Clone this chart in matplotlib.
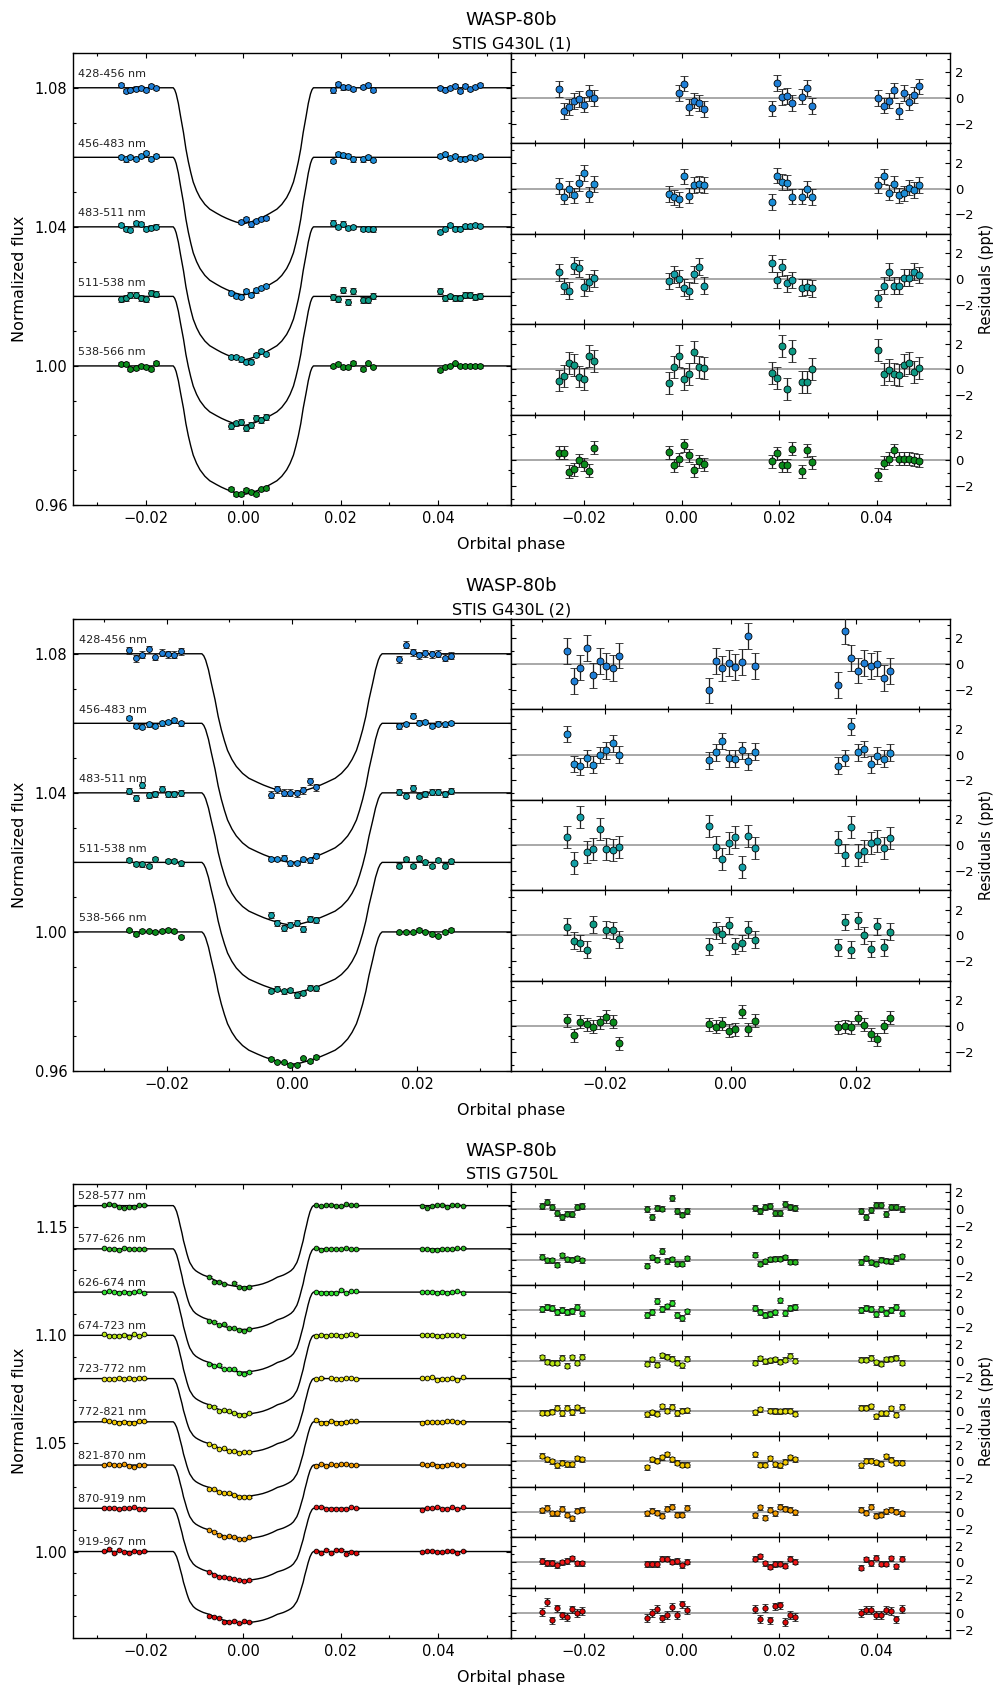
import numpy as np
import matplotlib
matplotlib.use("Agg")
import matplotlib.pyplot as plt
from matplotlib.ticker import MultipleLocator, FuncFormatter

nan = np.nan

# ======================= STIS G430L (1) =======================
p1_labels = ["428-456 nm", "456-483 nm", "483-511 nm", "511-538 nm", "538-566 nm"]
p1_offsets = [1.08, 1.06, 1.04, 1.02, 1.00]
p1_depths = [0.0390, 0.0395, 0.0382, 0.0371, 0.0369]
p1_errs = [0.6, 0.6, 0.65, 0.85, 0.5]
p1_colors = ['#1f7fd8', '#1c8ed8', '#12a0a8', '#0e9a84', '#0b8c1c']
p1_phase_g1 = [-0.0252, -0.0242, -0.0232, -0.0221, -0.0211, -0.0201, -0.0190, -0.0179]
p1_phase_g2 = [-0.00253, -0.0015, -0.00048, 0.00055, 0.00158, 0.0026, 0.00363, 0.00466]
p1_phase_g3 = [0.01842, 0.01945, 0.02048, 0.0215, 0.02253, 0.02459, 0.02562, 0.02664]
p1_phase_g4 = [0.04034, 0.04137, 0.0424, 0.04342, 0.04452, 0.04555, 0.04658, 0.0476, 0.04863]
p1_shape_g2 = [0.977, 0.99, 0.999, 0.999, 0.99, 0.976, 0.96, 0.942]
p1_res_b1 = [0.73, -1.0, -0.7, -0.23, -0.05, -0.5, 0.42, 0.03,
             nan, nan, 0.39, 1.12, -0.7, -0.18, -0.39, -0.83,
             -0.78, 1.17, 0.08, 0.16, -0.39, 0.13, 0.78, -0.62,
             0.0, -0.57, -0.18, 0.6, -1.01, 0.42, -0.31, 0.23, 0.91]
p1_res_b2 = [0.2, -0.62, -0.03, -0.52, 0.42, 1.2, -0.44, 0.36,
             -0.42, -0.68, -0.83, 0.94, -0.55, 0.26, 0.34, 0.26,
             -1.04, 1.01, 0.52, 0.47, -0.62, -0.62, -0.05, -0.65,
             0.26, 0.94, -0.31, 0.36, -0.52, -0.36, 0.08, -0.1, 0.29]
p1_res_b3 = [0.52, -0.55, -0.91, 1.04, 0.83, -0.65, -0.26, 0.05,
             -0.16, 0.36, 0.03, -0.68, -0.91, 0.36, 0.96, -0.52,
             1.22, -0.08, 0.91, -0.34, -0.08, -0.68, -0.62, -0.73,
             -1.48, -0.52, 0.57, -0.52, -0.52, 0.1, 0.1, 0.57, 0.31]
p1_res_b4 = [-0.86, -0.49, 0.49, 0.34, -0.55, -0.78, 1.01, 0.68,
             -1.04, 0.18, 1.01, -0.75, -0.34, 1.32, 0.18, 0.13,
             -0.26, -0.65, 1.84, -1.53, 1.45, -0.94, -0.96, 0.05,
             1.53, -0.39, -0.03, -0.34, -0.47, 0.31, 0.49, -0.18, 0.13]
p1_res_b5 = [0.55, 0.55, -0.91, -0.73, -0.05, -0.36, -0.86, 0.94,
             0.6, -0.44, 0.05, 1.12, 0.34, -0.81, -0.1, -0.36,
             -0.1, 0.52, -0.44, -0.42, 0.86, -0.88, 0.75, -0.18,
             -1.14, -0.23, 0.08, 0.75, 0.08, 0.08, 0.08, 0.0, -0.08]

# ======================= STIS G430L (2) =======================
p2_labels = p1_labels
p2_offsets = [1.08, 1.06, 1.04, 1.02, 1.00]
p2_depths = [0.0400, 0.0400, 0.0380, 0.0375, 0.0380]
p2_errs = [1.0, 0.65, 0.85, 0.65, 0.5]
p2_colors = p1_colors
p2_phase_g1 = [-0.0260, -0.02495, -0.02394, -0.02287, -0.02186, -0.02085, -0.01979, -0.01878, -0.01771]
p2_phase_g2 = [-0.0034, -0.00234, -0.00133, -0.00027, 0.00074, 0.00181, 0.00282, 0.00388]
p2_phase_g3 = [0.01718, 0.01819, 0.01926, 0.02027, 0.02133, 0.02234, 0.0234, 0.02441, 0.02548]
p2_shape_g2 = [0.963, 0.979, 0.992, 1.0, 0.998, 0.986, 0.973, 0.957]
p2_res_b1 = [1.0, -1.33, -0.26, 1.26, -0.87, 0.23, -0.15, -0.28, 0.67,
             -2.03, 0.23, -0.33, 0.08, -0.23, 0.15, 2.2, -0.15,
             -1.64, 2.54, 0.49, -0.49, 0.1, -0.13, 0.05, -1.08, -0.54]
p2_res_b2 = [1.59, -0.72, -0.92, -0.28, -0.79, -0.03, 0.33, 0.87, 0.0,
             -0.44, 0.18, 1.05, -0.28, -0.31, 0.33, -0.51, 0.23,
             -0.85, -0.26, 2.18, 0.18, 0.44, -0.74, -0.08, -0.33, 0.15]
p2_res_b3 = [0.59, -1.41, 2.15, -0.54, -0.28, 1.21, -0.33, -0.38, -0.15,
             1.49, -0.15, -1.1, 0.13, 0.59, -1.74, 0.69, -0.21,
             0.26, -0.77, 1.41, -0.77, -0.46, 0.18, 0.31, -0.23, 0.56]
p2_res_b4 = [0.67, -0.41, -0.59, -1.1, 0.87, nan, 0.44, 0.38, -0.31,
             -0.87, 0.38, 0.08, 0.77, -0.82, -0.59, 0.44, -0.33,
             -0.92, 1.03, -1.1, 1.18, 0.0, -1.05, 0.69, -0.92, 0.28]
p2_res_b5 = [0.44, -0.72, 0.33, 0.13, -0.08, 0.26, 0.69, 0.33, -1.36,
             0.13, -0.08, 0.15, -0.38, -0.28, 1.08, -0.26, 0.38,
             -0.1, -0.03, -0.1, 0.64, 0.08, -0.64, -1.03, -0.05, 0.64]

# ======================= STIS G750L =======================
p3_labels = ["528-577 nm", "577-626 nm", "626-674 nm", "674-723 nm", "723-772 nm",
             "772-821 nm", "821-870 nm", "870-919 nm", "919-967 nm"]
p3_offsets = [1.16, 1.14, 1.12, 1.10, 1.08, 1.06, 1.04, 1.02, 1.00]
p3_depths = [0.0376, 0.0373, 0.0370, 0.0365, 0.0342, 0.0345, 0.0341, 0.0334, 0.0330]
p3_errs = [0.35, 0.3, 0.35, 0.3, 0.3, 0.3, 0.3, 0.3, 0.45]
p3_colors = ['#22a01e', '#2cbb22', '#30e030', '#b8e614', '#e6e010', '#f2c800',
             '#f29c00', '#f01818', '#e00808']
p3_phase_g1 = [-0.0287, -0.02767, -0.02664, -0.02562, -0.02459, -0.02356, -0.02253, -0.02151, -0.02048]
p3_phase_g2 = [-0.00705, -0.00603, -0.005, -0.00397, -0.00295, -0.00192, -0.00089, 0.00014, 0.00116]
p3_phase_g3 = [0.015, 0.01603, 0.01705, 0.01808, 0.01911, 0.02014, 0.02116, 0.02219, 0.02322]
p3_phase_g4 = [0.03678, 0.03781, 0.03884, 0.03986, 0.04089, 0.04192, 0.04295, 0.04397, 0.04507]
p3_shape_g2 = [0.88, 0.913, 0.94, 0.962, 0.977, 0.988, 0.997, 1.0, 0.996]
p3_res_b1 = [0.4, 0.87, 0.24, -0.47, -0.95, -0.51, -0.55, 0.28, 0.36,
             0.04, -0.95, 0.12, 0.08, nan, 1.34, -0.2, -0.63, -0.2,
             0.12, -0.2, 0.28, 0.4, -0.4, -0.4, 0.63, 0.28, 0.12,
             -0.24, -0.95, -0.12, 0.47, 0.47, -0.55, 0.28, 0.28, 0.0]
p3_res_b2 = [0.32, -0.08, -0.08, -0.59, 0.51, 0.04, 0.0, 0.16, -0.08,
             -0.71, 0.28, 0.0, 1.03, -0.16, 0.04, -0.47, -0.47, 0.16,
             0.59, -0.47, -0.2, 0.04, 0.12, 0.12, 0.28, -0.24, -0.24,
             -0.28, 0.16, -0.32, -0.51, 0.0, -0.12, -0.2, 0.2, 0.4]
p3_res_b3 = [0.16, 0.36, 0.24, -0.24, 0.04, -0.24, -0.08, 0.36, -0.4,
             -0.59, -0.24, 1.07, 0.08, 0.43, 0.83, -0.63, -0.95, -0.16,
             0.2, -0.2, -0.55, -0.47, -0.28, 1.15, -0.32, 0.28, 0.36,
             0.04, 0.24, 0.16, -0.51, 0.16, -0.36, 0.04, 0.36, -0.36]
p3_res_b4 = [0.4, -0.12, -0.28, -0.28, 0.36, -0.59, 0.4, -0.24, 0.47,
             -0.36, 0.16, -0.47, 0.63, 0.47, 0.24, -0.24, -0.55, 0.24,
             -0.24, 0.28, -0.08, 0.04, 0.16, -0.12, 0.08, 0.59, -0.04,
             0.12, 0.12, 0.32, -0.2, -0.36, 0.16, 0.24, 0.36, -0.28]
p3_res_b5 = [-0.2, -0.2, -0.08, 0.4, -0.24, 0.4, -0.12, 0.43, 0.12,
             -0.36, -0.16, -0.32, 0.59, 0.04, 0.51, -0.24, 0.04, 0.08,
             -0.16, 0.2, nan, 0.04, 0.0, -0.04, 0.04, 0.04, -0.32,
             0.4, 0.4, 0.55, -0.63, -0.28, -0.28, 0.32, -0.43, 0.51]
p3_res_b6 = [0.67, 0.24, 0.0, -0.47, -0.16, -0.32, -0.32, 0.4, 0.24,
             -0.71, 0.24, 0.08, 0.47, 0.87, 0.24, -0.16, -0.4, -0.4,
             0.83, -0.4, -0.4, 0.36, -0.32, -0.43, -0.04, 0.47, 0.24,
             -0.47, 0.08, 0.08, -0.08, -0.28, 0.59, 0.2, -0.16, -0.16]
p3_res_b7 = [0.2, 0.51, -0.16, -0.16, 0.36, -0.32, -0.75, 0.12, 0.24,
             -0.16, 0.12, -0.12, -0.47, 0.4, 0.59, -0.32, -0.32, 0.47,
             -0.4, 0.55, -0.67, 0.28, -0.16, 0.59, 0.4, 0.24, -0.04,
             0.28, -0.12, 0.59, -0.47, -0.36, 0.08, 0.28, 0.04, -0.16]
p3_res_b8 = [0.16, -0.08, -0.08, -0.32, 0.0, 0.16, 0.51, -0.12, -0.12,
             -0.2, -0.2, -0.2, 0.4, 0.4, 0.08, 0.16, -0.32, 0.08,
             0.4, 0.75, -0.12, -0.55, -0.2, -0.16, -0.4, 0.43, 0.08,
             -0.63, 0.36, -0.08, 0.55, -0.16, -0.16, 0.51, -0.47, 0.43]
p3_res_b9 = [0.08, 1.3, -0.91, 0.51, -0.32, -0.47, 0.4, -0.04, 0.2,
             -0.59, -0.04, 0.43, -0.67, -0.24, 0.67, -0.24, 0.99, 0.36,
             0.47, -0.75, 0.55, -0.91, 0.75, 0.87, -1.1, -0.28, -0.51,
             -0.04, 0.36, 0.32, -0.24, -0.24, 0.32, 0.24, -0.79, 0.43]

# ---- transit model profile (ingress half; normalized drop) ----
g430_curve_phase = [-0.0144, -0.0141, -0.0138, -0.01335, -0.0129, -0.0123, -0.0118, -0.0113,
                    -0.0108, -0.0103, -0.0096, -0.0089, -0.0079, -0.0069, -0.0055, -0.0045,
                    -0.0035, -0.0025, -0.0015, -0.0005, 0.0]
g430_curve_shape = [0.0, 0.015, 0.045, 0.115, 0.21, 0.33, 0.45, 0.545, 0.625, 0.695, 0.76,
                    0.81, 0.86, 0.895, 0.925, 0.945, 0.962, 0.977, 0.99, 0.999, 1.0]
g750_curve_phase = [-0.0144, -0.0141, -0.0137, -0.0133, -0.0130, -0.0126, -0.0123, -0.0119,
                    -0.0116, -0.0113, -0.0110, -0.0106, -0.0103, -0.0098, -0.0093, -0.0087,
                    -0.0082, -0.0076, -0.0070, -0.0060, -0.0050, -0.0040, -0.0030, -0.0020,
                    -0.0010, 0.0]
g750_curve_shape = [0.0, 0.02, 0.074, 0.16, 0.24, 0.34, 0.43, 0.52, 0.59, 0.65, 0.70, 0.74,
                    0.77, 0.80, 0.82, 0.84, 0.855, 0.868, 0.88, 0.913, 0.94, 0.962, 0.977,
                    0.988, 0.997, 1.0]

# ---------------------------------------------------------------------
W, H = 997, 1689
fig = plt.figure(figsize=(W / 100, H / 100), dpi=100)
plt.rcParams['font.family'] = ['DejaVu Sans']

X0, XM, X1 = 73, 511, 950


def mfmt(dec):
    def f(v, p):
        if abs(v) < 1e-9:
            v = 0.0
        return (f"{v:.{dec}f}").replace('-', '\u2212')
    return FuncFormatter(f)


def style(ax):
    ax.tick_params(which='both', direction='in', top=True, bottom=True, left=True,
                   right=True, width=0.8, color='k')
    ax.tick_params(which='major', length=3.5)
    ax.tick_params(which='minor', length=2.0)
    for s in ax.spines.values():
        s.set_linewidth(1.0)


def panel(top, bot, xlim, ylim, ymajor, phases, shapes_exp, cph, csh, labels, offsets,
          depths, resids, errs, colors, sub, res_lim, ms_lc, ms_res, cap_lc, cap_res):
    phase = np.concatenate([np.asarray(p, float) for p in phases])
    cph = np.asarray(cph, float)
    csh = np.asarray(csh, float)
    full_ph = np.concatenate([[xlim[0]], cph, -cph[-2::-1], [xlim[1]]])
    full_sh = np.concatenate([[0.0], csh, csh[-2::-1], [0.0]])

    axL = fig.add_axes([X0 / W, 1 - bot / H, (XM - X0) / W, (bot - top) / H])
    for i in range(len(labels)):
        res = np.asarray(resids[i], float)
        flux = offsets[i] - depths[i] * shapes_exp + res / 1000.0
        axL.plot(full_ph, offsets[i] - depths[i] * full_sh, color='k', lw=1.0, zorder=2)
        axL.errorbar(phase, flux, yerr=errs[i] / 1000.0, fmt='o', ms=ms_lc,
                     mfc=colors[i], mec='k', mew=0.6, ecolor='#222222', elinewidth=0.8,
                     capsize=cap_lc, capthick=0.8, zorder=3)
        axL.text(xlim[0] + 0.001, offsets[i] + 0.003, labels[i], fontsize=8,
                 va='baseline', ha='left', color='#222222')
    axL.set_xlim(*xlim)
    axL.set_ylim(*ylim)
    axL.xaxis.set_major_locator(MultipleLocator(0.02))
    axL.xaxis.set_minor_locator(MultipleLocator(0.01))
    axL.yaxis.set_major_locator(MultipleLocator(ymajor))
    axL.yaxis.set_minor_locator(MultipleLocator(0.01))
    axL.xaxis.set_major_formatter(mfmt(2))
    axL.yaxis.set_major_formatter(mfmt(2))
    style(axL)
    axL.tick_params(labelsize=10.5, pad=4)

    n = len(labels)
    hpx = (bot - top) / n
    for i in range(n):
        t = top + i * hpx
        ax = fig.add_axes([XM / W, 1 - (t + hpx) / H, (X1 - XM) / W, hpx / H])
        ax.axhline(0, color='0.6', lw=1.2, zorder=1)
        ax.errorbar(phase, np.asarray(resids[i], float), yerr=errs[i], fmt='o', ms=ms_res,
                    mfc=colors[i], mec='k', mew=0.6, ecolor='#222222', elinewidth=0.9,
                    capsize=cap_res, capthick=0.9, zorder=3)
        ax.set_xlim(*xlim)
        ax.set_ylim(*res_lim)
        ax.xaxis.set_major_locator(MultipleLocator(0.02))
        ax.xaxis.set_minor_locator(MultipleLocator(0.01))
        ax.yaxis.set_major_locator(MultipleLocator(2))
        ax.yaxis.set_minor_locator(MultipleLocator(1))
        ax.xaxis.set_major_formatter(mfmt(2))
        ax.yaxis.set_major_formatter(mfmt(0))
        style(ax)
        ax.tick_params(axis='y', labelleft=False, labelright=True, labelsize=9.5, pad=3.5)
        ax.tick_params(axis='x', labelsize=10.5, pad=4, labelbottom=(i == n - 1))

    xc = (X0 + X1) / 2 / W
    fig.text(xc, 1 - (top - 28) / H, 'WASP-80b', ha='center', va='baseline', fontsize=13)
    fig.text(xc, 1 - (top - 4.8) / H, sub, ha='center', va='baseline', fontsize=11.5)
    fig.text(xc, 1 - (bot + 39.5) / H, 'Orbital phase', ha='center', va='center', fontsize=11.5)
    yc = 1 - ((top + bot) / 2) / H
    fig.text(19.4 / W, yc, 'Normalized flux', rotation=90, ha='center', va='center', fontsize=11.5)
    fig.text(986.7 / W, yc, 'Residuals (ppt)', rotation=90, ha='center', va='center', fontsize=10.5)


# panel 1
p1_phases = [p1_phase_g1, p1_phase_g2, p1_phase_g3, p1_phase_g4]
p1_shape = np.concatenate([np.zeros(len(p1_phase_g1)), p1_shape_g2,
                           np.zeros(len(p1_phase_g3)), np.zeros(len(p1_phase_g4))])
panel(53, 505, (-0.035, 0.055), (0.96, 1.09), 0.04, p1_phases, p1_shape,
      g430_curve_phase, g430_curve_shape, p1_labels, p1_offsets, p1_depths,
      [p1_res_b1, p1_res_b2, p1_res_b3, p1_res_b4, p1_res_b5], p1_errs, p1_colors,
      'STIS G430L (1)', (-3.5, 3.5), 4.2, 5.0, 2.2, 3.0)

# panel 2
p2_phases = [p2_phase_g1, p2_phase_g2, p2_phase_g3]
p2_shape = np.concatenate([np.zeros(len(p2_phase_g1)), p2_shape_g2, np.zeros(len(p2_phase_g3))])
panel(619, 1071, (-0.035, 0.035), (0.96, 1.09), 0.04, p2_phases, p2_shape,
      g430_curve_phase, g430_curve_shape, p2_labels, p2_offsets, p2_depths,
      [p2_res_b1, p2_res_b2, p2_res_b3, p2_res_b4, p2_res_b5], p2_errs, p2_colors,
      'STIS G430L (2)', (-3.5, 3.5), 4.2, 5.0, 2.2, 3.0)

# panel 3
p3_phases = [p3_phase_g1, p3_phase_g2, p3_phase_g3, p3_phase_g4]
p3_shape = np.concatenate([np.zeros(len(p3_phase_g1)), p3_shape_g2,
                           np.zeros(len(p3_phase_g3)), np.zeros(len(p3_phase_g4))])
panel(1184, 1638, (-0.035, 0.055), (0.96, 1.17), 0.05, p3_phases, p3_shape,
      g750_curve_phase, g750_curve_shape, p3_labels, p3_offsets, p3_depths,
      [p3_res_b1, p3_res_b2, p3_res_b3, p3_res_b4, p3_res_b5, p3_res_b6, p3_res_b7,
       p3_res_b8, p3_res_b9], p3_errs, p3_colors,
      'STIS G750L', (-3.0, 3.0), 3.4, 3.8, 1.8, 2.5)

fig.savefig('out.png', dpi=100)
